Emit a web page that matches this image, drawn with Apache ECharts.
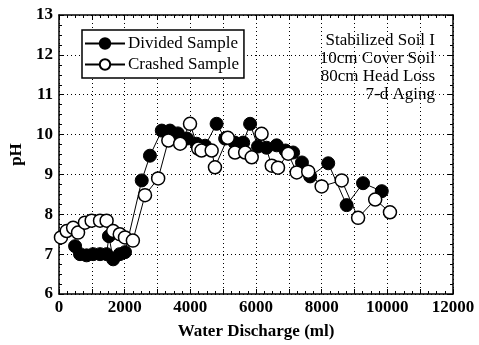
<!DOCTYPE html>
<html>
<head>
<meta charset="utf-8">
<script src="https://cdn.jsdelivr.net/npm/echarts@6/dist/echarts.min.js"></script>
<style>html,body{margin:0;padding:0;background:#fff}#c{width:479px;height:345px}</style>
</head>
<body>
<div id="c"></div>
<script>
var seriesNames = ['Divided Sample', 'Crashed Sample'];
var dividedX = [490, 640, 840, 1040, 1250, 1450, 1520, 1650, 1850, 2010, 2520, 2770, 3130, 3380, 3620, 3900, 4190, 4450, 4800, 5060, 5350, 5610, 5820, 6060, 6320, 6630, 6900, 7130, 7400, 7650, 8200, 8760, 9260, 9830];
var dividedY = [7.2, 7.0, 6.97, 7.0, 7.0, 7.0, 7.45, 6.87, 7.0, 7.05, 8.85, 9.47, 10.1, 10.1, 10.03, 9.9, 9.77, 9.72, 10.27, 9.9, 9.8, 9.8, 10.27, 9.7, 9.67, 9.73, 9.6, 9.55, 9.3, 8.95, 9.28, 8.23, 8.78, 8.58];
var crashedX = [60, 234, 430, 580, 790, 995, 1250, 1450, 1650, 1850, 2010, 2250, 2620, 3020, 3330, 3690, 3990, 4240, 4340, 4650, 4750, 5140, 5360, 5670, 5870, 6170, 6480, 6670, 6980, 7240, 7590, 8000, 8610, 9110, 9630, 10080];
var crashedY = [7.42, 7.58, 7.66, 7.54, 7.79, 7.84, 7.84, 7.84, 7.58, 7.5, 7.42, 7.34, 8.48, 8.9, 9.85, 9.77, 10.27, 9.65, 9.6, 9.6, 9.18, 9.92, 9.55, 9.55, 9.43, 10.02, 9.22, 9.17, 9.52, 9.05, 9.07, 8.7, 8.85, 7.91, 8.37, 8.05];
var annotationLines = ['Stabilized Soil I', '10cm Cover Soil', '80cm Head Loss', '7-d Aging'];
var xTitle = 'Water Discharge (ml)';
var yTitle = 'pH';

function zip(a, b) { return a.map(function (v, i) { return [v, b[i]]; }); }
var serif = 'Liberation Serif';
var chart = echarts.init(document.getElementById('c'));
var axisLineStyle = { color: '#000', width: 1.5 };
var grid = { left: 59, top: 15, right: 26, bottom: 48 };
var graphics = annotationLines.map(function (t, i) {
  return { type: 'text', right: 479 - 435, top: 32 + i * 18,
    style: { text: t, fill: '#000', font: '17px "Liberation Serif"', textAlign: 'right' } };
});
chart.setOption({
  animation: false,
  grid: grid,
  legend: {
    left: 82, top: 30, orient: 'vertical', itemGap: 4,
    itemWidth: 40, itemHeight: 13, padding: [5, 5, 5, 2],
    borderColor: '#000', borderWidth: 1.5, backgroundColor: '#fff',
    textStyle: { fontFamily: serif, fontSize: 17, color: '#000', padding: [0, 0, 0, -2] },
    data: seriesNames
  },
  graphic: graphics,
  xAxis: [{
    type: 'value', min: 0, max: 12000, interval: 1000, position: 'bottom',
    name: xTitle, nameLocation: 'middle', nameGap: 29,
    nameTextStyle: { fontFamily: serif, fontSize: 17, fontWeight: 'bold', color: '#000' },
    axisLine: { lineStyle: axisLineStyle },
    axisTick: { inside: true, length: 5, lineStyle: { color: '#000' } },
    minorTick: { show: true, splitNumber: 4, length: 3, lineStyle: { color: '#000' } },
    axisLabel: { fontFamily: serif, fontSize: 17, fontWeight: 'bold', color: '#000', margin: 5,
      formatter: function (v) { return v % 2000 === 0 ? String(v) : ''; } },
    splitLine: { show: true, lineStyle: { color: '#000', width: 1, type: [1, 3] } }
  }, {
    type: 'value', min: 0, max: 12000, interval: 1000, position: 'top',
    axisLine: { onZero: false, lineStyle: axisLineStyle },
    axisTick: { inside: true, length: 5, lineStyle: { color: '#000' } },
    minorTick: { show: true, splitNumber: 4, length: 3, lineStyle: { color: '#000' } },
    axisLabel: { show: false }, splitLine: { show: false }
  }],
  yAxis: [{
    type: 'value', min: 6, max: 13, interval: 1, position: 'left',
    name: yTitle, nameLocation: 'middle', nameGap: 33, nameRotate: 90,
    nameTextStyle: { fontFamily: serif, fontSize: 17, fontWeight: 'bold', color: '#000' },
    axisLine: { lineStyle: axisLineStyle },
    axisTick: { inside: true, length: 5, lineStyle: { color: '#000' } },
    minorTick: { show: true, splitNumber: 4, length: 3, lineStyle: { color: '#000' } },
    axisLabel: { fontFamily: serif, fontSize: 17, fontWeight: 'bold', color: '#000', margin: 6 },
    splitLine: { show: true, lineStyle: { color: '#000', width: 1, type: [1, 3] } }
  }, {
    type: 'value', min: 6, max: 13, interval: 1, position: 'right',
    axisLine: { onZero: false, lineStyle: axisLineStyle },
    axisTick: { inside: true, length: 5, lineStyle: { color: '#000' } },
    minorTick: { show: true, splitNumber: 4, length: 3, lineStyle: { color: '#000' } },
    axisLabel: { show: false }, splitLine: { show: false }
  }],
  series: [{
    name: seriesNames[0], type: 'line', data: zip(dividedX, dividedY),
    symbol: 'circle', symbolSize: 13,
    itemStyle: { color: '#000', borderColor: '#000', borderWidth: 1 },
    lineStyle: { color: '#000', width: 1 }
  }, {
    name: seriesNames[1], type: 'line', data: zip(crashedX, crashedY),
    symbol: 'circle', symbolSize: 13,
    itemStyle: { color: '#fff', borderColor: '#000', borderWidth: 1.5 },
    lineStyle: { color: '#000', width: 1 }
  }]
});
</script>
</body>
</html>
